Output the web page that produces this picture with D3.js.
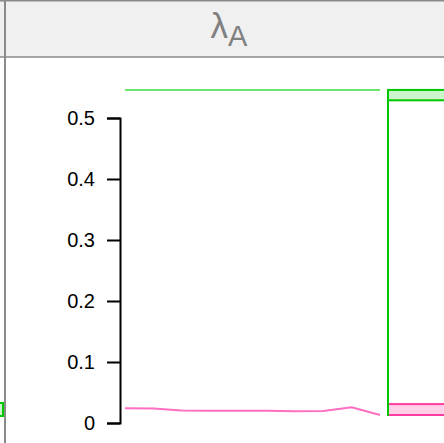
<!DOCTYPE html>
<html><head><meta charset="utf-8">
<script src="https://cdn.jsdelivr.net/npm/d3@7"></script>
<style>html,body{margin:0;padding:0;background:#fff;}svg{display:block;}</style>
</head><body>
<script>
// ---- data ----
const stepIndex = [0,1,2,3,4,5,6,7,8,9];
const greenSeries = [0.546,0.546,0.546,0.546,0.546,0.546,0.546,0.546,0.546,0.546];
const pinkSeries = [0.0241,0.0239,0.0205,0.0202,0.0200,0.0200,0.0193,0.0197,0.0257,0.0131];
const greenBand = [0.529, 0.546];
const pinkBand = [0.0131, 0.0310];
const leftPanelBand = [0.0115, 0.0328];
const yTicks = [0,0.1,0.2,0.3,0.4,0.5];
const panelTitle = "λ";
const panelSub = "A";

const W = 444, H = 443;
const svg = d3.select("body").append("svg").attr("width", W).attr("height", H);

// header strip
svg.append("rect").attr("x",0).attr("y",0).attr("width",W).attr("height",57).attr("fill","#f0f0f0");
svg.append("line").attr("x1",0).attr("x2",W).attr("y1",0.75).attr("y2",0.75).attr("stroke","#8a8a8a").attr("stroke-width",1.5);
svg.append("line").attr("x1",0).attr("x2",W).attr("y1",57).attr("y2",57).attr("stroke","#8a8a8a").attr("stroke-width",1.5);
const t = svg.append("text").attr("x",229).attr("y",38).attr("text-anchor","middle")
  .attr("fill","#808080").attr("font-family","Liberation Sans, Arial, sans-serif");
t.append("tspan").attr("font-size",35).text(panelTitle);
t.append("tspan").attr("font-size",29).attr("dy",8).text(panelSub);

// scales
const y = d3.scaleLinear().domain([0,0.5]).range([423,118]);
const x = d3.scaleLinear().domain([0,9]).range([125,380]);
const boxX = 388;

// left panel fragment
svg.append("rect").attr("x",-20).attr("y",y(leftPanelBand[1])).attr("width",23)
  .attr("height",y(leftPanelBand[0])-y(leftPanelBand[1]))
  .attr("fill","#ccf5cc").attr("stroke","#00c800").attr("stroke-width",2);
svg.append("line").attr("x1",5).attr("x2",5).attr("y1",0).attr("y2",H).attr("stroke","#8a8a8a").attr("stroke-width",2);

// axis
const axis = d3.axisLeft(y).tickValues(yTicks).tickSize(13).tickSizeOuter(13).tickPadding(12)
  .tickFormat(d => d===0 ? "0" : d3.format(".1f")(d));
const g = svg.append("g").attr("transform","translate(120,0)").call(axis);
g.selectAll("path,line").attr("stroke","#000").attr("stroke-width",2);
g.selectAll("text").attr("font-family","Liberation Sans, Arial, sans-serif").attr("font-size",20).attr("fill","#000");

// lines
const line = d3.line().x((d,i)=>x(stepIndex[i])).y(d=>y(d));
svg.append("path").datum(greenSeries).attr("d",line).attr("fill","none").attr("stroke","#6ee66e").attr("stroke-width",2);
svg.append("path").datum(pinkSeries).attr("d",line).attr("fill","none").attr("stroke","#ff6ec0").attr("stroke-width",2);

// right box
svg.append("rect").attr("x",boxX).attr("y",y(greenBand[1])).attr("width",100)
  .attr("height",y(greenBand[0])-y(greenBand[1])).attr("fill","#ccf5cc").attr("stroke","#00c800").attr("stroke-width",2);
svg.append("rect").attr("x",boxX).attr("y",y(pinkBand[1])).attr("width",100)
  .attr("height",y(pinkBand[0])-y(pinkBand[1])).attr("fill","#ffd0e8").attr("stroke","#ff3da0").attr("stroke-width",2);
svg.append("line").attr("x1",boxX).attr("x2",boxX).attr("y1",y(greenBand[1])-1).attr("y2",y(pinkBand[0])+1)
  .attr("stroke","#00c800").attr("stroke-width",2);
</script>
</body></html>
